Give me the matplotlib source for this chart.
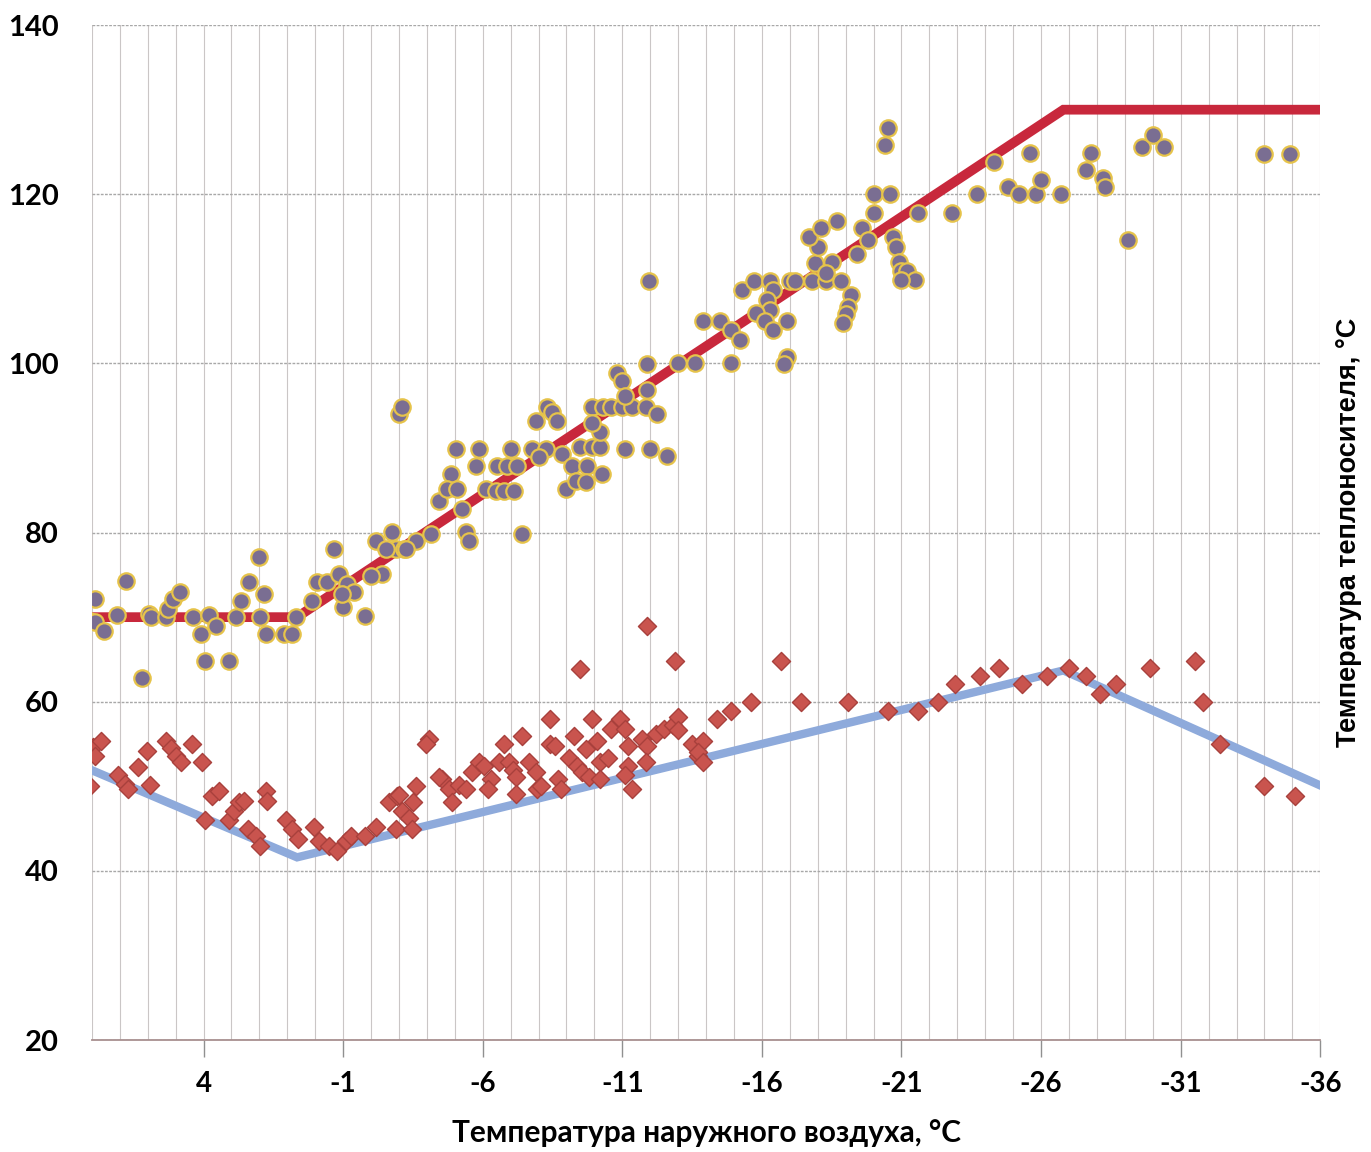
import matplotlib
matplotlib.use("Agg")
import matplotlib.pyplot as plt
import numpy as np

# outdoor temperature (x) / supply water temperature (y), measured points
supply_x = [7.9, 8.05, 7.9, 7.55, 6.76, 7.1, 6.2, 5.97, 5.87, 5.33, 5.26, 5.08, 4.83, 4.36, 4.1,
            3.8, 3.57, 3.93, 3.07, 2.85, 2.67, 2.38, 2.03, 1.85, 1.96, 1.78, 1.13, 0.84, 0.7, 0.13,
            -0.05, -0.41, -0.66, -0.84, -1.0, -1.13, -1.38, -1.8, -2.17, -2.39, -2.75, -2.9, -3.17,
            -3.6, -4.14, -4.43,
            -0.95, -1.99, -2.53, -3.25, -3.0, -3.1, -5.4, -5.5, -7.4, -4.86, -4.72, -5.08, -5.26,
            -5.04, -5.87, -5.76, -6.12, -6.48, -6.76, -7.12, -6.5, -6.87, -7.23, -7.0, -7.9, -8.3,
            -8.48, -8.66, -7.77, -8.27, -8.84, -8.0, -9.2, -9.74, -10.28, -8.98, -9.35, -9.7, -9.5,
            -9.9, -10.2, -9.9, -10.3, -10.6, -11.0, -11.35, -11.85, -10.2, -9.9, -10.8, -11.0,
            -11.1, -11.9, -11.9, -12.25, -11.1, -12.0, -12.6, -13.0, -13.6,
            -11.96, -13.9, -14.5, -14.9, -15.2, -14.9, -15.3, -15.7, -16.3, -16.4, -16.2, -16.3,
            -15.8, -16.1, -16.4, -16.9, -16.9, -16.8, -17.0, -17.2, -17.8, -18.3, -18.85, -17.9,
            -18.5, -18.3, -18.0, -17.7, -18.1, -18.7, -19.2, -19.1, -19.0, -18.9, -19.4, -19.6,
            -19.8, -20.0, -20.0, -20.6, -20.4, -20.5, -20.7, -20.8, -20.9, -21.0, -21.2, -21.5,
            -21.0, -21.6, -22.8, -23.7,
            -24.3, -24.8, -25.2, -25.8, -26.7, -25.6, -26.0, -27.8, -27.6, -28.2, -28.3, -29.1,
            -29.6, -30.0, -30.4, -34.0, -34.9]
supply_y = [72.2, 69.6, 69.4, 68.4, 74.3, 70.3, 62.8, 70.4, 70.0, 70.0, 71.0, 72.2, 73.0, 70.0, 68.0,
            70.2, 69.0, 64.8, 64.8, 70.0, 71.9, 74.2, 77.1, 72.7, 70.0, 68.0, 68.0, 68.0, 70.0, 71.9,
            74.2, 74.2, 78.1, 75.1, 71.2, 73.9, 73.0, 70.1, 79.0, 75.1, 80.1, 78.1, 78.1,
            79.0, 79.8, 83.7,
            72.7, 74.9, 78.1, 78.1, 94.0, 94.8, 80.1, 79.0, 79.8, 86.9, 85.1, 85.1, 82.8,
            89.9, 89.9, 87.9, 85.1, 84.9, 84.9, 84.9, 87.9, 87.9, 87.9, 89.9, 93.2, 94.9,
            94.3, 93.2, 89.9, 89.9, 89.3, 88.9, 87.9, 87.9, 86.9, 85.1, 86.1, 86.0, 90.1,
            90.1, 90.1, 94.8, 94.8, 94.8, 94.8, 94.8, 94.8, 91.9, 93.0, 98.9, 97.9,
            96.1, 99.9, 96.9, 94.0, 89.9, 89.9, 89.0, 100.1, 100.1,
            109.8, 105.0, 105.0, 104.0, 102.8, 100.1, 108.7, 109.7, 109.7, 108.7, 107.5, 106.3,
            106.0, 105.0, 104.0, 105.0, 100.8, 99.9, 109.7, 109.7, 109.7, 109.7, 109.7, 111.9,
            112.0, 110.7, 113.8, 114.9, 116.0, 116.8, 108.1, 106.7, 105.8, 104.8, 112.9, 116.0,
            114.6, 117.8, 120.0, 120.0, 125.8, 127.8, 114.9, 113.8, 112.0, 110.9, 110.9, 109.9,
            109.9, 117.8, 117.8, 120.0,
            123.8, 120.9, 120.0, 120.0, 120.0, 124.9, 121.7, 124.9, 122.9, 121.9, 120.9, 114.6,
            125.6, 127.0, 125.6, 124.8, 124.8]

# outdoor temperature / return water temperature, measured points
return_x = [7.95, 7.66, 7.9, 8.05, 7.05, 6.8, 6.7, 6.33, 6.04, 5.9, 5.36, 5.15, 4.97, 4.79, 4.43,
            4.07, 3.93, 3.7, 3.46, 3.1, 2.9, 2.74, 2.56, 2.39, 2.13, 1.96, 1.78, 1.74, 1.06, 0.84,
            0.6, 0.05, -0.13, -0.48, -0.77, -1.1, -1.3, -1.8, -2.17, -2.64, -2.92, -3.1, -3.36,
            -2.9, -3.6, -3.5, -4.07, -4.54,
            -11.9, -9.5, -12.9, -3.96, -4.43, -3.0, -3.46, -4.8, -4.9, -5.15, -5.4, -5.6, -5.87,
            -6.05, -6.3, -6.2, -6.58, -6.76, -6.94, -7.1, -7.2, -7.2, -7.4, -7.66, -7.9, -7.95,
            -8.1, -8.4, -8.4, -8.6, -8.7, -8.8, -9.1, -9.27, -9.38, -9.56, -9.7, -9.8, -9.9,
            -10.1, -10.2, -10.2, -10.5, -10.6, -10.9, -11.1, -11.2, -11.2, -11.35, -11.1, -11.7,
            -11.9, -11.85, -12.2, -12.5, -12.8, -13.0, -13.0, -13.5, -13.7,
            -16.7, -13.9, -13.7, -13.9, -14.4, -14.9, -15.6, -17.4, -19.1, -20.5, -21.6, -22.3,
            -22.9, -23.8, -24.5, -25.3, -26.2, -27.0, -27.6, -28.1, -28.7, -29.9, -31.5, -31.8,
            -32.4, -34.0, -35.1]
return_y = [54.7, 55.3, 53.6, 50.0, 51.3, 50.3, 49.7, 52.3, 54.2, 50.1, 55.3, 54.5, 53.6, 52.9, 55.0,
            52.9, 46.0, 48.9, 49.4, 46.0, 47.1, 48.2, 48.3, 45.0, 44.1, 43.0, 49.4, 48.3, 46.0, 45.0,
            43.8, 45.2, 43.5, 43.0, 42.3, 43.5, 44.1, 44.1, 45.2, 48.2, 48.9, 47.1, 46.2,
            45.0, 50.0, 48.2, 55.6, 50.9,
            68.9, 63.9, 64.8, 55.0, 51.1, 49.0, 45.0, 49.7, 48.2, 50.1, 49.7, 51.7, 52.9,
            52.4, 50.9, 49.7, 52.9, 55.0, 52.9, 51.9, 51.1, 49.1, 56.0, 52.9, 51.7, 49.7,
            50.0, 58.0, 55.0, 54.8, 50.9, 49.7, 53.3, 56.0, 52.4, 51.7, 54.4, 51.1, 58.0,
            55.3, 52.9, 50.9, 53.3, 56.8, 58.0, 56.8, 54.8, 52.4, 49.7, 51.3, 55.6,
            54.8, 52.9, 56.2, 56.8, 57.2, 58.2, 56.6, 55.0, 53.6,
            64.8, 55.3, 54.1, 52.9, 58.0, 58.9, 60.0, 60.0, 60.0, 58.9, 58.9, 60.0,
            62.1, 63.1, 64.0, 62.1, 63.1, 64.0, 63.1, 60.9, 62.1, 64.0, 64.8, 60.0,
            55.0, 50.0, 48.9]

# design temperature schedule (break points)
sched_x = [8, 0.65, -26.8, -36]
sched_supply = [70, 70, 130, 130]
sched_return = [51.9, 41.6, 63.7, 50.1]

x_ticks = [4, -1, -6, -11, -16, -21, -26, -31, -36]
y_ticks = [20, 40, 60, 80, 100, 120, 140]

fig = plt.figure(figsize=(13.71, 11.52), dpi=100)
ax = fig.add_axes([0.067, 0.0972, 0.896, 0.881])

# one vertical grid line per degree, horizontal every 20
for gx in range(8, -37, -1):
    ax.axvline(gx, color='#cac6c6', lw=0.8, zorder=0)
for gy in y_ticks:
    ax.axhline(gy, color='#a8a8a8', lw=1.0, ls=(0, (2, 1)), zorder=0)

ax.plot(sched_x, sched_supply, color='#c8283c', lw=7, solid_joinstyle='miter', zorder=2)
ax.plot(sched_x, sched_return, color='#8eaadb', lw=6, solid_joinstyle='miter', zorder=2)

ax.scatter(supply_x, supply_y, s=140, marker='o', facecolor='#7a6e92',
           edgecolor='#e6c34a', linewidths=1.6, zorder=3)
ax.scatter(return_x, return_y, s=85, marker='D', facecolor='#c9544e',
           edgecolor='#a8403c', linewidths=1.0, zorder=3)

ax.set_xlim(8, -36)
ax.set_ylim(20, 140)
ax.set_xticks(x_ticks)
ax.set_yticks(y_ticks)
ax.set_xticklabels([str(t) for t in x_ticks], fontfamily='Lato', fontweight='bold', fontsize=20)
ax.set_yticklabels([str(t) for t in y_ticks], fontfamily='Lato', fontweight='bold', fontsize=21)
ax.tick_params(axis='x', direction='out', length=12, width=1, color='#909090', pad=10)
ax.tick_params(axis='y', length=0, pad=24)

for side in ['top', 'right', 'left']:
    ax.spines[side].set_visible(False)
ax.spines['bottom'].set_color('#a89090')
ax.spines['bottom'].set_linewidth(1.3)

ax.set_xlabel('Температура наружного воздуха, °C', fontfamily='Lato', fontweight='bold',
              fontsize=21.5, labelpad=16)
ax.text(1.023, 0.5, 'Температура теплоносителя, °C', transform=ax.transAxes,
        rotation=90, ha='center', va='center', fontfamily='Liberation Sans',
        fontweight='bold', fontsize=19.5)

fig.savefig('out.png', dpi=100)
